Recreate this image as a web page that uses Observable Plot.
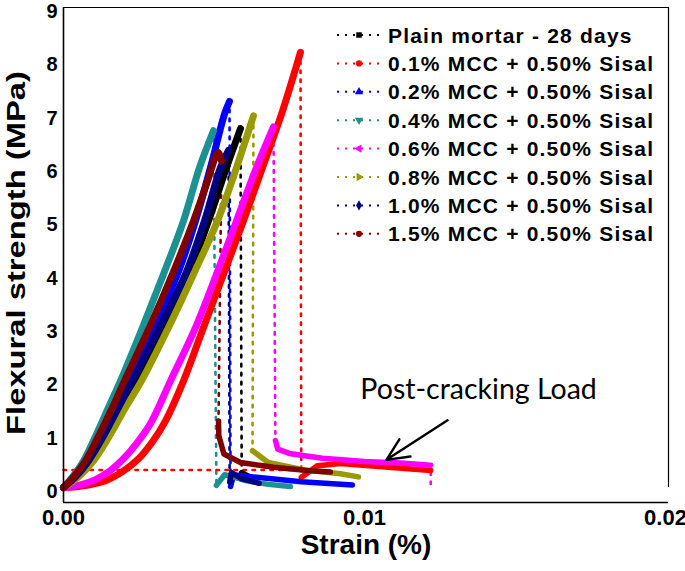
<!DOCTYPE html>
<html><head><meta charset="utf-8">
<script src="https://cdn.jsdelivr.net/npm/d3@7"></script>
<script src="https://cdn.jsdelivr.net/npm/@observablehq/plot@0.6"></script>
<style>
body{margin:0;background:#fff;}
#chart svg{font-family:"Liberation Sans",Arial,sans-serif;background:#fff;}
</style></head><body><div id="chart"></div>
<script>
// ---- series ----
const seriesNames = ["Plain mortar - 28 days","0.1% MCC + 0.50% Sisal","0.2% MCC + 0.50% Sisal","0.4% MCC + 0.50% Sisal","0.6% MCC + 0.50% Sisal","0.8% MCC + 0.50% Sisal","1.0% MCC + 0.50% Sisal","1.5% MCC + 0.50% Sisal"];
const seriesColors = ["#000000","#ff0000","#0000ff","#1b9191","#ff00ff","#999900","#000080","#800000"];
const seriesSymbols = ["square","circle","triangleUp","triangleDown","triangleLeft","triangleRight","diamond","circle"];

// ---- [strain, flexural strength MPa] : loading branch ----
const plainLoad   = [[0,0],[0.000432,0.2],[0.000897,0.5],[0.001429,1.0],[0.001927,1.5],[0.002392,2.0],[0.003289,3.0],[0.004153,4.0],[0.004817,5.0],[0.005415,6.0],[0.00588,6.73]];
const mcc01Load   = [[0,0],[0.000731,0.04],[0.001395,0.13],[0.00196,0.3],[0.002458,0.52],[0.002957,0.86],[0.003389,1.25],[0.003987,2.0],[0.004651,3.0],[0.005316,4.0],[0.00598,5.0],[0.006611,6.0],[0.007243,7.0],[0.007874,8.16]];
const mcc02Load   = [[0,0],[0.000365,0.2],[0.000764,0.5],[0.001262,1.0],[0.001728,1.5],[0.002159,2.0],[0.00299,3.0],[0.003787,4.0],[0.004385,5.0],[0.004884,6.0],[0.005349,7.0],[0.005515,7.24]];
const mcc04Load   = [[0,0],[0.000299,0.2],[0.000664,0.5],[0.001096,1.0],[0.001495,1.5],[0.001894,2.0],[0.002625,3.0],[0.003322,4.0],[0.003987,5.0],[0.004518,6.0],[0.004983,6.69]];
const mcc06Load   = [[0,0],[0.000565,0.05],[0.001063,0.15],[0.001561,0.32],[0.00196,0.52],[0.002392,0.8],[0.00289,1.2],[0.003555,2.0],[0.004385,3.0],[0.005083,4.0],[0.005748,5.0],[0.006412,6.0],[0.006977,6.76]];
const mcc08Load   = [[0,0],[0.000498,0.2],[0.000997,0.5],[0.001561,1.0],[0.00206,1.5],[0.002591,2.0],[0.003488,3.0],[0.004319,4.0],[0.005116,5.0],[0.005748,6.0],[0.006312,6.97]];
const mcc10Load   = [[0,0],[0.000399,0.2],[0.000831,0.5],[0.001362,1.0],[0.001827,1.5],[0.002292,2.0],[0.003189,3.0],[0.004053,4.0],[0.004684,5.0],[0.005216,6.0],[0.005482,6.32]];
const mcc15Load   = [[0,0],[0.000332,0.2],[0.000731,0.5],[0.001196,1.0],[0.001628,1.5],[0.002027,2.0],[0.002857,3.0],[0.003621,4.0],[0.004319,5.0],[0.004817,5.8],[0.00505,6.2],[0.00515,6.28],[0.00525,6.12]];

// ---- post-cracking branch ----
const plainTail = [[0.00592,0.28],[0.00605,0.24],[0.0062,0.2]];
const mcc01Tail = [[0.0079,0.19],[0.00843,0.41],[0.0092,0.45],[0.0108,0.38],[0.0122,0.32]];
const mcc02Tail = [[0.00555,0.02],[0.00565,0.24],[0.0059,0.22],[0.0065,0.19],[0.0079,0.11],[0.0096,0.05]];
const mcc04Tail = [[0.00508,0.04],[0.00535,0.24],[0.00565,0.2],[0.00605,0.13],[0.0068,0.06],[0.00754,0.02]];
const mcc06Tail = [[0.00704,0.88],[0.00712,0.72],[0.0075,0.64],[0.0086,0.55],[0.01,0.49],[0.0112,0.46],[0.0122,0.42]];
const mcc08Tail = [[0.00628,0.69],[0.0068,0.47],[0.008,0.33],[0.0092,0.26],[0.0098,0.2]];
const mcc10Tail = [[0.00552,0.1],[0.00558,0.28],[0.0059,0.17],[0.0065,0.08]];
const mcc15Tail = [[0.00515,1.25],[0.00516,0.97],[0.00533,0.63],[0.00588,0.47],[0.00698,0.38],[0.0081,0.32],[0.00887,0.29]];

// extra dotted-only connections
const mcc01Base = [[0,0.33],[0.0079,0.33]];
const mcc06End  = [[0.0122,0]];

// ---- axes ----
const xTicks = [0, 0.01, 0.02];
const yTicks = [0,1,2,3,4,5,6,7,8,9];
const xMax = 0.0201, yMin = -0.28, yMax = 9;

// annotation
const annText = "Post-cracking Load";
const annPos = {x: 0.01379, y: 1.83};
const arrowFrom = {x: 0.01276, y: 1.26}, arrowTo = {x: 0.01073, y: 0.52};

const loads = [plainLoad, mcc01Load, mcc02Load, mcc04Load, mcc06Load, mcc08Load, mcc10Load, mcc15Load];
const tails = [plainTail, mcc01Tail, mcc02Tail, mcc04Tail, mcc06Tail, mcc08Tail, mcc10Tail, mcc15Tail];
const extras = [[], [], [], [], mcc06End, [], [], []];

const toRows = arr => arr.map(([x,y]) => ({x, y}));
const dottedMarks = [], thickMarks = [];
seriesNames.forEach((name, i) => {
  const c = seriesColors[i];
  const path = toRows([...loads[i], ...tails[i], ...extras[i]]);
  dottedMarks.push(Plot.line(path, {x:"x", y:"y", stroke:c, strokeWidth:2.6, strokeDasharray:"2.5,6.5"}));
  thickMarks.push(Plot.line(toRows(loads[i]), {x:"x", y:"y", stroke:c, strokeWidth:7, curve:"catmull-rom", strokeLinejoin:"round", strokeLinecap:"round"}));
  thickMarks.push(Plot.line(toRows(tails[i]), {x:"x", y:"y", stroke:c, strokeWidth:5.5, strokeLinejoin:"round", strokeLinecap:"round"}));
});
dottedMarks.push(Plot.line(toRows(mcc01Base), {x:"x", y:"y", stroke:seriesColors[1], strokeWidth:2.6, strokeDasharray:"2.5,6.5"}));

const svg = Plot.plot({
  width: 685, height: 571,
  marginLeft: 63, marginRight: 17, marginTop: 7, marginBottom: 69,
  style: {fontFamily: "'Liberation Sans', Arial, sans-serif", color: "#000"},
  x: {domain: [0, xMax]},
  y: {domain: [yMin, yMax]},
  marks: [
    ...dottedMarks,
    ...thickMarks,
    Plot.ruleX([0], {y1: yMin, y2: yMax, stroke:"#000", strokeWidth:1.6}),
    Plot.ruleY([yMin], {x1: 0, x2: xMax, stroke:"#000", strokeWidth:1.6}),
    Plot.ruleY([yMax], {x1: 0, x2: xMax, stroke:"#000", strokeWidth:1.2}),
    Plot.ruleX([xMax], {y1: 0, y2: yMax, stroke:"#000", strokeWidth:1.2}),
    Plot.axisY({ticks: yTicks, tickSize: 0, tickPadding: 6, dy: 4, fontSize: 20, fontWeight: "bold", label: null}),
    Plot.axisX({ticks: xTicks, tickFormat: d3.format(".2f"), tickSize: 0, tickPadding: 7, fontSize: 22, fontWeight: "bold", label: null}),
    Plot.text(["Strain (%)"], {frameAnchor: "bottom", dy: 51, fontSize: 28, fontWeight: "bold", className: "xtitle"}),
    Plot.text(["Flexural strength (MPa)"], {frameAnchor: "left", textAnchor: "middle", dx: -47, dy: -2, rotate: -90, fontSize: 25, fontWeight: "bold", className: "ytitle"}),
    Plot.text([annText], {x: () => annPos.x, y: () => annPos.y, fontSize: 28.5, fontFamily: "Lato, 'Open Sans', sans-serif", fill: "#000"}),
    Plot.arrow([0], {x1: () => arrowFrom.x, y1: () => arrowFrom.y, x2: () => arrowTo.x, y2: () => arrowTo.y, stroke: "#000", strokeWidth: 2.4, headLength: 16, headAngle: 50})
  ]
});

// stretch y title along its length (as in the reference)
const yt = svg.querySelector(".ytitle text");
if (yt) { const t = yt.getAttribute("transform") || ""; yt.setAttribute("transform", t + " scale(1.31,1)"); }

// legend
const g = d3.select(svg).append("g").attr("class", "legend").attr("text-anchor", "start");
const symMap = {square: d3.symbolSquare, circle: d3.symbolCircle, triangleUp: d3.symbolTriangle, triangleDown: d3.symbolTriangle, triangleLeft: d3.symbolTriangle, triangleRight: d3.symbolTriangle, diamond: d3.symbolDiamond};
const rotMap = {triangleDown: 180, triangleLeft: -90, triangleRight: 90};
seriesNames.forEach((name, i) => {
  const cy = 35 + i * 28.4;
  const row = g.append("g").attr("transform", `translate(0,${cy})`);
  row.append("line").attr("x1", 337).attr("x2", 381).attr("y1", 0).attr("y2", 0)
    .attr("stroke", seriesColors[i]).attr("stroke-width", 2).attr("stroke-dasharray", "2,6");
  const s = seriesSymbols[i];
  row.append("path").attr("d", d3.symbol(symMap[s], 30)())
    .attr("transform", `translate(359,0) rotate(${rotMap[s] || 0})`).attr("fill", seriesColors[i]);
  row.append("text").attr("x", 388).attr("y", 0).attr("dy", "0.36em").attr("text-anchor", "start")
    .attr("font-size", 21).attr("font-weight", "bold").attr("letter-spacing", 1.2).attr("fill", "#000").text(name);
});

document.getElementById("chart").appendChild(svg);
</script></body></html>
